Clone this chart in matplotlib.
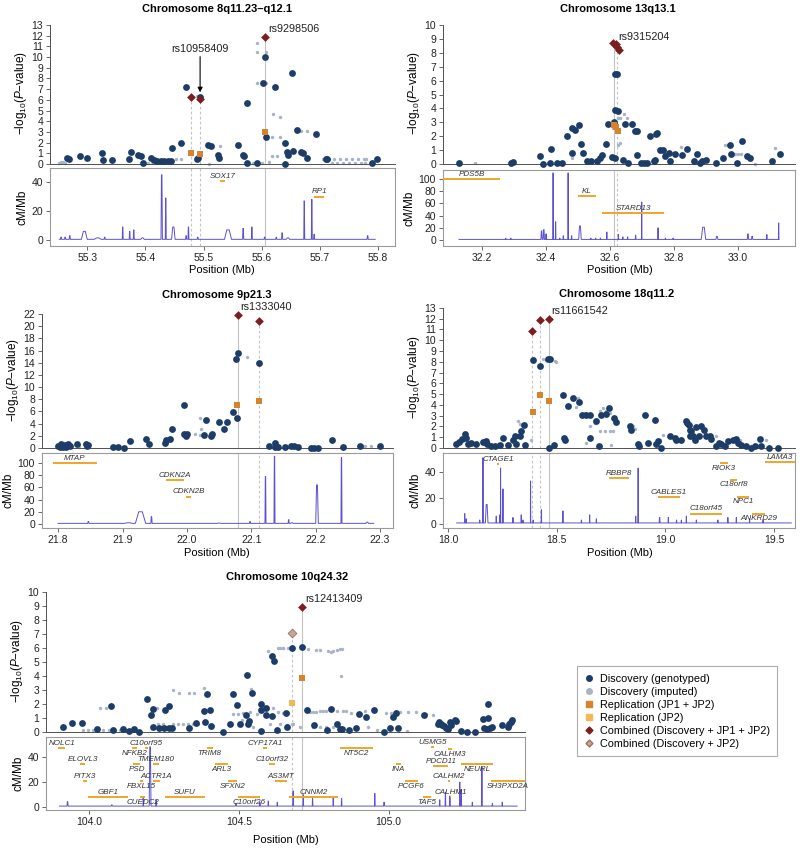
import numpy as np
import matplotlib
matplotlib.use("Agg")
from matplotlib import pyplot as plt
from matplotlib.lines import Line2D

plt.rcParams['font.family'] = ['Liberation Sans', 'DejaVu Sans']
plt.rcParams['mathtext.fontset'] = 'custom'
plt.rcParams['mathtext.rm'] = 'Liberation Sans'
plt.rcParams['mathtext.it'] = 'Liberation Sans:italic'

# ---------------- data: chromosome 8q11.23-q12.1 ----------------
geno_8 = [(55.265, 0.55), (55.268, 0.5), (55.287, 0.78), (55.300, 0.53), (55.326, 1.05), (55.327, 0.4),
          (55.343, 0.4), (55.372, 0.5), (55.376, 1.1), (55.388, 0.8), (55.393, 0.7), (55.396, 0.1),
          (55.410, 0.6), (55.415, 0.4), (55.420, 0.3), (55.426, 0.25), (55.432, 0.25), (55.438, 0.25),
          (55.444, 0.3), (55.445, 1.45), (55.462, 1.95), (55.470, 7.2), (55.488, 0.45), (55.491, 0.55),
          (55.494, 6.3), (55.508, 1.75), (55.513, 1.7), (55.525, 0.85), (55.526, 0.6), (55.560, 1.75),
          (55.568, 0.8), (55.570, 0.75), (55.574, 5.75), (55.574, 0.1), (55.591, 0.1), (55.602, 7.55),
          (55.606, 10.0), (55.608, 2.5), (55.622, 7.2), (55.640, 2.0), (55.640, 0.0), (55.643, 1.1),
          (55.645, 0.8), (55.652, 8.5), (55.654, 1.2), (55.660, 3.2), (55.668, 1.1), (55.671, 1.0),
          (55.677, 0.55), (55.694, 2.85), (55.710, 0.45), (55.712, 0.5), (55.790, 0.1), (55.798, 0.5)]
imp_8 = [(55.252, 0.05), (55.255, 0.15), (55.258, 0.2), (55.262, 0.1), (55.405, 0.1), (55.412, 0.15),
         (55.418, 0.1), (55.424, 0.15), (55.430, 0.1), (55.453, 0.5), (55.462, 0.5), (55.480, 6.3),
         (55.488, 6.35), (55.510, 0.0), (55.528, 1.65), (55.591, 11.3), (55.591, 10.5), (55.608, 10.45),
         (55.591, 7.6), (55.608, 7.6), (55.620, 4.7), (55.632, 4.4), (55.618, 2.55), (55.631, 2.55),
         (55.660, 3.1), (55.668, 3.1), (55.678, 3.1), (55.618, 0.7), (55.627, 0.7), (55.585, 0.1),
         (55.600, 0.05), (55.612, 0.15), (55.705, 0.45), (55.715, 0.5), (55.725, 0.45), (55.735, 0.45),
         (55.745, 0.5), (55.755, 0.45), (55.765, 0.45), (55.775, 0.5), (55.780, 0.45), (55.720, 0.1),
         (55.730, 0.1), (55.740, 0.05), (55.750, 0.1), (55.760, 0.1), (55.770, 0.1), (55.778, 0.1)]
rep_8 = [(55.478, 1.0), (55.494, 0.9), (55.606, 3.0)]
comb_8 = [(55.478, 6.25), (55.494, 6.05), (55.606, 11.9)]
# recombination peaks: position, cM/Mb, half width
rec_8 = [(55.255, 2, .001), (55.262, 2, .001), (55.270, 3, .001), (55.295, 6, .005), (55.318, 1.5, .006),
         (55.330, 2, .001), (55.361, 9, .0008), (55.373, 6, .0008), (55.380, 7, .0008), (55.395, 1.5, .003),
         (55.428, 45, .0012), (55.435, 29, .0008), (55.448, 9, .003), (55.470, 3, .001), (55.474, 9, .0008),
         (55.490, 2, .001), (55.542, 7, .006), (55.568, 8, .001), (55.583, 9, .0008), (55.605, 2, .001),
         (55.625, 2, .001), (55.635, 5, .001), (55.645, 1.5, .003), (55.673, 27, .0008), (55.686, 28, .0008),
         (55.690, 4, .0008), (55.782, 3, .001)]
genes_8 = [('SOX17', 55.529, 55.537, 41, 'above'), ('RP1', 55.690, 55.707, 30, 'above')]

# ---------------- data: chromosome 13q13.1 ----------------
geno_13 = [(32.128, 0.07), (32.292, 0.07), (32.296, 0.15), (32.380, 0.55), (32.390, 0.0), (32.416, 1.1),
           (32.412, 0.07), (32.433, 0.07), (32.449, 0.07), (32.467, 2.0), (32.480, 0.8), (32.482, 2.6),
           (32.490, 2.45), (32.503, 2.8), (32.509, 1.45), (32.516, 0.8), (32.527, 0.2), (32.542, 0.2),
           (32.558, 0.2), (32.568, 0.4), (32.575, 0.65), (32.586, 1.45), (32.594, 2.9), (32.607, 0.5),
           (32.617, 0.45), (32.614, 6.5), (32.623, 6.5), (32.614, 3.9), (32.626, 3.85), (32.611, 3.0),
           (32.640, 0.3), (32.647, 2.9), (32.656, 0.05), (32.670, 2.85), (32.678, 2.4), (32.685, 2.4),
           (32.683, 0.65), (32.696, 0.1), (32.707, 0.05), (32.716, 0.1), (32.725, 2.05), (32.738, 0.2),
           (32.744, 2.15), (32.748, 2.2), (32.741, 0.3), (32.757, 1.0), (32.764, 1.0), (32.772, 0.6),
           (32.783, 0.8), (32.788, 0.2), (32.804, 0.7), (32.825, 0.65), (32.840, 1.1), (32.861, 0.2),
           (32.872, 0.7), (32.882, 0.05), (32.887, 0.2), (32.900, 0.3), (32.932, 0.05), (32.953, 0.45),
           (32.976, 1.4), (32.979, 0.7), (32.997, 0.05), (33.013, 1.65), (33.028, 0.55), (33.036, 0.45),
           (33.106, 0.25), (33.130, 0.75)]
imp_13 = [(32.177, 0.05), (32.482, 0.4), (32.626, 3.3), (32.644, 3.6), (32.632, 3.3), (32.653, 3.3),
          (32.626, 1.35), (32.631, 1.55), (32.822, 1.2), (32.960, 1.4), (32.968, 1.4), (32.990, 0.7),
          (33.000, 0.7), (33.010, 0.7), (33.052, 0.0), (33.117, 1.15), (32.610, 2.6)]
rep_13 = [(32.612, 2.8), (32.618, 2.7), (32.626, 2.35)]
comb_13 = [(32.610, 8.7), (32.618, 8.6), (32.622, 8.45), (32.627, 8.2)]
rec_13 = [(32.274, 3, .001), (32.290, 3, .001), (32.386, 15, .002), (32.393, 17, .002), (32.400, 10, .001),
          (32.422, 110, .0008), (32.430, 30, .0008), (32.443, 3, .001), (32.454, 7, .001), (32.469, 110, .0008),
          (32.480, 7, .001), (32.506, 23, .004), (32.540, 3, .001), (32.555, 3, .001), (32.570, 3, .001),
          (32.590, 13, .001), (32.626, 9, .001), (32.640, 5, .001), (32.655, 5, .001), (32.680, 8, .001),
          (32.699, 62, .0008), (32.750, 20, .0008), (32.773, 3, .001), (32.797, 3, .001), (32.892, 21, .007),
          (32.934, 6, .003), (33.031, 10, .002), (33.044, 6, .002), (33.090, 9, .001), (33.127, 28, .0008)]
genes_13 = [('PDS5B', 32.078, 32.257, 100, 'above'), ('KL', 32.500, 32.555, 72, 'above'),
            ('STARD13', 32.575, 32.770, 44, 'above')]

# ---------------- data: chromosome 9p21.3 ----------------
geno_9 = [(21.800, 0.4), (21.803, 0.2), (21.805, 0.6), (21.808, 0.2), (21.811, 0.5), (21.813, 0.2),
          (21.816, 0.65), (21.819, 0.4), (21.830, 0.7), (21.844, 0.7), (21.845, 0.3), (21.846, 0.45),
          (21.885, 0.15), (21.893, 0.15), (21.902, 0.0), (21.912, 1.1), (21.936, 1.5), (21.941, 0.7),
          (21.966, 0.8), (21.967, 1.35), (21.974, 1.45), (21.977, 3.1), (21.995, 2.35), (21.995, 7.1),
          (21.998, 2.0), (22.000, 2.35), (22.027, 2.2), (22.029, 4.6), (22.038, 1.9), (22.039, 2.35),
          (22.050, 4.25), (22.057, 3.15), (22.063, 4.2), (22.072, 5.85), (22.078, 4.9), (22.076, 14.6),
          (22.079, 15.65), (22.112, 14.0), (22.128, 0.4), (22.137, 0.8), (22.137, 0.15), (22.142, 0.15),
          (22.153, 0.15), (22.162, 0.4), (22.166, 0.25), (22.172, 0.15), (22.193, 0.0), (22.198, 0.0),
          (22.203, 0.0), (22.226, 1.25), (22.243, 0.15), (22.268, 0.4), (22.300, 0.35)]
imp_9 = [(22.094, 15.0), (22.021, 5.0), (22.022, 3.1), (22.021, 2.2), (21.840, 0.6), (21.832, 0.2),
         (21.978, 3.0), (22.013, 2.3), (22.274, 0.4), (22.277, 0.4), (22.286, 0.3), (21.915, 1.1),
         (21.970, 1.2)]
rep_9 = [(22.078, 7.1), (22.112, 7.65)]
comb_9 = [(22.079, 21.9), (22.112, 20.9)]
rec_9 = [(21.847, 4, .001), (21.909, 2, .006), (21.928, 20, .008), (21.945, 12, .001), (22.050, 1.5, .003),
         (22.098, 4, .0008), (22.122, 78, .0008), (22.136, 111, .0008), (22.158, 7, .0008), (22.163, 2, .002),
         (22.202, 64, .002), (22.240, 109, .0008), (22.280, 3, .002)]
genes_9 = [('MTAP', 21.792, 21.860, 100, 'above'), ('CDKN2A', 21.967, 21.995, 72, 'above'),
           ('CDKN2B', 21.999, 22.007, 45, 'above')]

# ---------------- data: chromosome 18q11.2 ----------------
geno_18 = [(18.038, 0.4), (18.051, 0.53), (18.066, 0.84), (18.077, 1.3), (18.084, 0.93), (18.092, 0.4),
           (18.107, 0.46), (18.130, 0.4), (18.161, 0.53), (18.173, 0.62), (18.179, 0.4), (18.199, 0.15),
           (18.215, 0.22), (18.238, 0.31), (18.253, 0.93), (18.276, 0.25), (18.299, 0.77), (18.307, 1.08),
           (18.314, 0.4), (18.330, 1.08), (18.337, 1.55), (18.348, 2.1), (18.353, 0.31), (18.391, 8.2),
           (18.422, 7.65), (18.462, 8.3), (18.471, 8.25), (18.463, 0.0), (18.488, 0.3), (18.529, 4.95),
           (18.532, 0.93), (18.537, 0.77), (18.552, 3.87), (18.575, 4.64), (18.601, 4.27), (18.618, 3.03),
           (18.633, 3.03), (18.652, 3.03), (18.655, 0.93), (18.683, 2.54), (18.695, 0.22), (18.706, 3.1),
           (18.725, 3.16), (18.741, 3.72), (18.764, 2.79), (18.775, 2.38), (18.836, 2.0), (18.844, 1.7),
           (18.874, 0.4), (18.879, 0.15), (18.905, 3.03), (18.920, 0.46), (18.951, 2.6), (18.956, 0.4),
           (18.966, 0.62), (18.979, 0.0), (19.020, 1.08), (19.043, 0.93), (19.051, 0.77), (19.074, 0.77),
           (19.097, 2.48), (19.100, 2.32), (19.107, 2.1), (19.112, 1.7), (19.112, 1.15), (19.120, 1.55),
           (19.127, 1.15), (19.135, 0.77), (19.143, 1.95), (19.155, 1.08), (19.166, 2.07), (19.176, 1.7),
           (19.189, 1.08), (19.204, 1.15), (19.212, 0.84), (19.235, 0.15), (19.247, 0.46), (19.258, 0.4),
           (19.273, 0.15), (19.288, 0.62), (19.311, 0.77), (19.327, 0.84), (19.334, 0.46), (19.350, 0.31),
           (19.373, 0.15), (19.396, 0.0), (19.411, 0.15), (19.434, 0.84), (19.442, 0.15), (19.477, 0.0),
           (19.518, 0.0)]
imp_18 = [(18.322, 2.48), (18.330, 2.26), (18.345, 2.0), (18.337, 1.08), (18.437, 8.25), (18.452, 8.2),
          (18.491, 8.05), (18.498, 7.95), (18.598, 4.64), (18.590, 3.8), (18.629, 3.2), (18.660, 3.1),
          (18.698, 3.4), (18.713, 3.7), (18.729, 3.4), (18.744, 3.25), (18.652, 2.0), (18.675, 2.3),
          (18.698, 1.55), (18.721, 1.55), (18.744, 1.55), (18.759, 1.55), (18.637, 0.46), (18.752, 0.31),
          (18.383, 0.77), (19.235, 1.08), (19.342, 0.77), (19.465, 0.77), (18.974, 0.77), (18.989, 1.24),
          (18.851, 2.0), (18.859, 1.75), (19.127, 1.08)]
rep_18 = [(18.391, 3.3), (18.422, 4.95), (18.463, 4.4)]
comb_18 = [(18.387, 10.85), (18.422, 11.85), (18.463, 12.0)]
rec_18 = [(18.077, 8, .001), (18.084, 4, .001), (18.146, 3, .001), (18.161, 51, .0008), (18.178, 15, .006),
          (18.222, 6, .001), (18.238, 7, .001), (18.242, 43, .0008), (18.253, 27, .0008), (18.299, 5, .001),
          (18.337, 7, .001), (18.345, 3, .001), (18.380, 33, .0008), (18.392, 3, .001), (18.430, 11, .001),
          (18.529, 10, .002), (18.614, 3, .001), (18.652, 7, .001), (18.683, 4, .001), (18.864, 6, .001),
          (18.875, 43, .0008), (18.974, 5, .002), (19.014, 5, .001), (19.052, 3, .001), (19.074, 3, .001),
          (19.097, 6, .001), (19.143, 3, .001), (19.242, 3, .001), (19.288, 5, .001), (19.327, 5, .001),
          (19.388, 4, .001), (19.450, 3, .001)]
genes_18 = [('CTAGE1', 18.226, 18.234, 46, 'above'), ('RBBP8', 18.740, 18.835, 35, 'above'),
            ('CABLES1', 18.965, 19.070, 21, 'above'), ('C18orf45', 19.112, 19.262, 8, 'above'),
            ('RIOK3', 19.253, 19.290, 47, 'below'), ('C18orf8', 19.300, 19.331, 34, 'below'),
            ('NPC1', 19.331, 19.385, 21, 'below'), ('ANKRD29', 19.400, 19.460, 8, 'below'),
            ('LAMA3', 19.460, 19.620, 47.5, 'above')]

# ---------------- data: chromosome 10q24.32 ----------------
geno_10 = [(103.913, 0.33), (103.943, 0.64), (103.975, 0.62), (104.027, 0.19), (104.071, 1.83), (104.078, 0.12),
           (104.114, 0.24), (104.134, 0.07), (104.150, 0.19), (104.167, 0.0), (104.194, 2.33), (104.205, 1.19),
           (104.212, 1.67), (104.214, 0.36), (104.232, 0.28), (104.249, 0.28), (104.253, 1.6), (104.266, 0.28),
           (104.267, 1.83), (104.275, 0.3), (104.334, 0.29), (104.356, 0.64), (104.383, 1.48), (104.386, 0.71),
           (104.392, 2.69), (104.404, 1.6), (104.405, 0.4), (104.447, 0.0), (104.469, 0.55), (104.479, 2.74),
           (104.492, 1.9), (104.503, 0.6), (104.522, 1.21), (104.527, 4.1), (104.530, 0.6), (104.535, 0.8),
           (104.545, 2.81), (104.572, 1.6), (104.575, 2.02), (104.575, 0.07), (104.589, 1.74), (104.589, 1.24),
           (104.609, 1.12), (104.609, 5.4), (104.618, 5.07), (104.626, 0.12), (104.656, 1.38), (104.661, 0.36),
           (104.677, 6.02), (104.711, 6.07), (104.726, 1.55), (104.750, 0.48), (104.795, 0.12), (104.809, 1.67),
           (104.828, 0.55), (104.836, 0.2), (104.845, 0.2), (104.868, 0.17), (104.890, 0.31), (104.901, 1.26),
           (104.926, 1.07), (104.950, 1.6), (104.984, 0.0), (105.004, 0.31), (105.015, 1.05), (105.026, 1.38),
           (105.032, 0.29), (105.117, 1.19), (105.165, 0.6), (105.170, 0.7), (105.175, 0.6), (105.180, 0.5),
           (105.186, 0.4), (105.193, 0.3), (105.199, 0.25), (105.204, 0.7), (105.210, 0.5), (105.221, 0.88),
           (105.227, 0.8), (105.241, 0.07), (105.263, 0.0), (105.290, 0.0), (105.317, 0.95), (105.334, 1.0),
           (105.334, 1.98), (105.320, 0.3), (105.328, 0.25), (105.338, 0.3), (105.346, 0.35), (105.378, 0.52),
           (105.398, 0.36), (105.404, 0.6), (105.410, 0.71), (105.414, 0.83)]
imp_10 = [(104.036, 1.71), (104.056, 1.71), (103.980, 0.17), (103.997, 0.17), (104.013, 0.17), (104.047, 0.17),
          (104.064, 0.17), (104.086, 0.17), (104.103, 0.17), (104.120, 0.17), (104.153, 0.17), (104.227, 1.71),
          (104.278, 2.98), (104.300, 2.81), (104.334, 2.81), (104.350, 2.81), (104.383, 3.14), (104.280, 0.6),
          (104.297, 0.6), (104.314, 0.6), (104.331, 0.6), (104.347, 0.6), (104.364, 0.6), (104.230, 0.6),
          (104.247, 0.55), (104.539, 3.1), (104.481, 1.31), (104.498, 1.31), (104.512, 1.36), (104.537, 1.43),
          (104.596, 5.79), (104.629, 6.02), (104.646, 6.02), (104.664, 6.02), (104.615, 1.74), (104.631, 1.43),
          (104.648, 1.36), (104.664, 1.36), (104.559, 1.31), (104.509, 0.83), (104.548, 0.36), (104.603, 0.55),
          (104.637, 0.55), (104.676, 0.6), (104.637, 6.02), (104.648, 6.02), (104.731, 5.95), (104.759, 5.88),
          (104.770, 5.83), (104.798, 5.76), (104.806, 5.71), (104.815, 5.79), (104.826, 5.83), (104.837, 5.9),
          (104.843, 5.93), (104.840, 3.98), (104.737, 1.43), (104.748, 1.43), (104.759, 1.43), (104.770, 1.5),
          (104.781, 1.5), (104.792, 1.5), (104.826, 1.5), (104.848, 1.48), (104.859, 1.48), (104.876, 1.36),
          (104.898, 1.36), (104.920, 1.5), (104.993, 1.38), (105.009, 1.38), (105.037, 1.4), (105.065, 1.43),
          (105.093, 1.43), (105.126, 1.26), (105.149, 1.24), (104.659, 0.48), (104.681, 0.55), (104.704, 0.36),
          (104.748, 0.36), (104.770, 0.36), (104.792, 0.36), (104.815, 0.36), (104.932, 0.36), (104.960, 0.12),
          (105.060, 0.07)]
rep_10 = [(104.711, 3.86)]
rep2_10 = [(104.676, 2.05)]
comb_10 = [(104.711, 8.93)]
comb2_10 = [(104.676, 7.05)]
rec_10 = [(103.927, 4.5, .002), (104.075, 2, .002), (104.180, 8, .001), (104.203, 48, .003), (104.223, 6, .001),
          (104.490, 3, .002), (104.570, 4, .001), (104.598, 5, .001), (104.628, 4, .001), (104.681, 13, .001),
          (104.715, 10, .001), (104.746, 7, .001), (104.815, 8, .001), (104.843, 7, .001), (104.954, 11, .001),
          (104.985, 4, .002), (105.171, 6, .001), (105.190, 12, .001), (105.205, 9, .001), (105.238, 20, .001),
          (105.243, 14, .001), (105.280, 4, .001), (105.312, 32, .001), (105.347, 3, .001), (105.380, 4, .001)]
genes_10 = [('NOLC1', 103.896, 103.919, 47, 'above'), ('ELOVL3', 103.969, 103.986, 34, 'above'),
            ('PITX3', 103.980, 103.993, 21, 'above'), ('GBF1', 103.997, 104.130, 8, 'above'),
            ('NFKB2', 104.142, 104.158, 47, 'below'), ('C10orf95', 104.186, 104.196, 47, 'above'),
            ('TMEM180', 104.212, 104.234, 34, 'above'), ('PSD', 104.147, 104.169, 34, 'below'),
            ('ACTR1A', 104.214, 104.236, 21, 'above'), ('FBXL15', 104.170, 104.180, 21, 'below'),
            ('CUEDC2', 104.170, 104.186, 8, 'below'), ('SUFU', 104.253, 104.386, 8, 'above'),
            ('TRIM8', 104.392, 104.412, 47, 'below'), ('ARL3', 104.420, 104.464, 34, 'below'),
            ('SFXN2', 104.464, 104.492, 21, 'below'), ('C10orf26', 104.497, 104.570, 8, 'below'),
            ('CYP17A1', 104.581, 104.594, 47, 'above'), ('C10orf32', 104.601, 104.620, 34, 'above'),
            ('AS3MT', 104.620, 104.659, 21, 'above'), ('CNNM2', 104.668, 104.831, 8, 'above'),
            ('NT5C2', 104.837, 104.948, 47, 'below'), ('INA', 105.026, 105.040, 34, 'below'),
            ('PCGF6', 105.054, 105.099, 21, 'below'), ('TAF5', 105.115, 105.143, 8, 'below'),
            ('USMG5', 105.143, 105.151, 48, 'above'), ('CALHM3', 105.200, 105.212, 46, 'below'),
            ('PDCD11', 105.149, 105.200, 33, 'above'), ('NEURL', 105.243, 105.349, 34, 'below'),
            ('CALHM2', 105.200, 105.205, 21, 'above'), ('CALHM1', 105.205, 105.210, 8, 'above'),
            ('SH3PXD2A', 105.344, 105.460, 21, 'below')]

legend_labels = ['Discovery (genotyped)', 'Discovery (imputed)', 'Replication (JP1 + JP2)',
                 'Replication (JP2)', 'Combined (Discovery + JP1 + JP2)', 'Combined (Discovery + JP2)']

# ---------------- style ----------------
C_GENO = '#1d3c68'
C_IMP = '#a7b3c7'
C_REP = '#d5832c'
C_REP2 = '#f0b955'
C_COMB = '#7a1e22'
C_COMB2 = '#c9a497'
C_REC = '#5a52d2'
C_GENE = '#f0a52a'
C_VL = '#c4c4c4'
C_AX = '#505050'

W, H = 800, 850
fig = plt.figure(figsize=(W / 100, H / 100), dpi=100)


def px_axes(x0, y0, x1, y1):
    return fig.add_axes([x0 / W, 1 - y1 / H, (x1 - x0) / W, (y1 - y0) / H])


def rec_line(peaks, x0, x1, base):
    xs, ys = [x0], [base]
    for p, h, hw in sorted(peaks):
        xs += [p - hw, p - hw * 0.35, p + hw * 0.35, p + hw]
        ys += [base, h, h, base]
    xs.append(x1)
    ys.append(base)
    return xs, ys


def style_ticks(ax):
    ax.tick_params(length=3, width=0.6, labelsize=7.5, pad=2, colors='#222222')
    ax.tick_params(axis='both', color=C_AX)


def panel(cfg):
    x0p, x1p = cfg['xpx']
    top = px_axes(x0p, cfg['top_px'][0], x1p, cfg['top_px'][1])
    bot = px_axes(x0p, cfg['bot_px'][0], x1p, cfg['bot_px'][1])
    for ax in (top, bot):
        ax.set_xlim(*cfg['xlim'])
        ax.patch.set_alpha(0)

    # association panel
    top.set_ylim(*cfg['ylim'])
    for s in ('top', 'right'):
        top.spines[s].set_visible(False)
    top.spines['bottom'].set_position(('data', 0))
    top.spines['bottom'].set_color(C_AX)
    top.spines['left'].set_color(C_AX)
    top.spines['left'].set_bounds(0, cfg['ymax'])
    top.spines['left'].set_linewidth(0.7)
    top.spines['bottom'].set_linewidth(0.7)
    top.set_xticks([])
    top.set_yticks(np.arange(0, cfg['ymax'] + 1, cfg['ystep']))
    style_ticks(top)
    top.set_ylabel(r'$-\mathrm{log}_{10}(\mathit{P}\mathrm{-value})$', fontsize=8.5, labelpad=2)

    comb_all = cfg['comb'] + cfg.get('comb2', [])
    span = cfg['xlim'][1] - cfg['xlim'][0]
    for vx, style in cfg['vlines']:
        near = [cy for cx, cy in comb_all if abs(cx - vx) < 0.01 * span]
        ls = '-' if style == 'solid' else (0, (2.5, 2))
        top.plot([vx, vx], [0, max(near)], color=C_VL, lw=0.8, ls=ls, zorder=1)
        bot.axvline(vx, color=C_VL, lw=0.8, ls=ls, zorder=1)

    ix, iy = zip(*cfg['imp'])
    top.scatter(ix, iy, s=6, color=C_IMP, lw=0, zorder=2, clip_on=False)
    gx, gy = zip(*cfg['geno'])
    top.scatter(gx, gy, s=24, color=C_GENO, lw=0, zorder=3, clip_on=False)
    rx, ry = zip(*cfg['rep'])
    top.scatter(rx, ry, s=16, marker='s', color=C_REP, lw=0, zorder=4)
    if 'rep2' in cfg:
        rx, ry = zip(*cfg['rep2'])
        top.scatter(rx, ry, s=16, marker='s', color=C_REP2, lw=0, zorder=4)
    cx, cy = zip(*cfg['comb'])
    top.scatter(cx, cy, s=20, marker='D', color=C_COMB, lw=0, zorder=5, clip_on=False)
    if 'comb2' in cfg:
        cx, cy = zip(*cfg['comb2'])
        top.scatter(cx, cy, s=20, marker='D', color=C_COMB2, edgecolor='#9c6f62', lw=0.6, zorder=5)

    lx, ly = cfg['lead']
    top.annotate(cfg['lead_name'], (lx, ly), xytext=(2, 2), textcoords='offset points',
                 ha='left', va='bottom', fontsize=7.8, color='#222222')

    # recombination panel
    xs, ys = rec_line(cfg['rec'], cfg['rec_span'][0], cfg['rec_span'][1], cfg['rec_base'])
    bot.plot(xs, ys, color=C_REC, lw=0.7, zorder=2)
    bot.set_ylim(*cfg['rlim'])
    bot.set_yticks(cfg['rticks'])
    bot.set_xticks(cfg['xticks'])
    bot.set_xticklabels(cfg['xticklabels'])
    for s in bot.spines.values():
        s.set_color('#9a9a9a')
        s.set_linewidth(0.8)
    style_ticks(bot)
    bot.set_ylabel('cM/Mb', fontsize=8.5, labelpad=2)
    for name, g0, g1, gy, pos in cfg['genes']:
        bot.plot([g0, g1], [gy, gy], color=C_GENE, lw=1.4, solid_capstyle='butt', zorder=3, clip_on=True)
        lo = max(g0, cfg['xlim'][0])
        hi = min(g1, cfg['xlim'][1])
        if pos == 'above':
            bot.annotate(name, ((lo + hi) / 2, gy), xytext=(0, 0.8), textcoords='offset points',
                         ha='center', va='bottom', fontsize=5.8, style='italic', color='#333333', zorder=4)
        else:
            bot.annotate(name, ((lo + hi) / 2, gy), xytext=(0, -1.2), textcoords='offset points',
                         ha='center', va='top', fontsize=5.8, style='italic', color='#333333', zorder=4)
    return top, bot


cfg8 = dict(xpx=(50, 395), top_px=(20, 166), bot_px=(168, 246), xlim=(55.236, 55.829),
            ylim=(-0.19, 13.47), ymax=13, ystep=1, rlim=(-4.1, 49.7), rticks=[0, 20, 40],
            xticks=[55.3, 55.4, 55.5, 55.6, 55.7, 55.8], xticklabels=['55.3', '55.4', '55.5', '55.6', '55.7', '55.8'],
            geno=geno_8, imp=imp_8, rep=rep_8, comb=comb_8, rec=rec_8, rec_span=(55.252, 55.795), rec_base=0.5,
            genes=genes_8, lead=comb_8[2], lead_name='rs9298506',
            vlines=[(55.478, 'dashed'), (55.494, 'dashed'), (55.606, 'solid')])
cfg13 = dict(xpx=(443, 795), top_px=(20, 166), bot_px=(170, 246), xlim=(32.078, 33.178),
             ylim=(-0.14, 10.36), ymax=10, ystep=1, rlim=(-9.8, 114.8), rticks=[0, 20, 40, 60, 80, 100],
             xticks=[32.2, 32.4, 32.6, 32.8, 33.0], xticklabels=['32.2', '32.4', '32.6', '32.8', '33.0'],
             geno=geno_13, imp=imp_13, rep=rep_13, comb=comb_13, rec=rec_13, rec_span=(32.128, 33.128),
             rec_base=1, genes=genes_13, lead=comb_13[1], lead_name='rs9315204',
             vlines=[(32.612, 'solid'), (32.622, 'dashed')])
cfg9 = dict(xpx=(42, 393), top_px=(309, 450), bot_px=(453, 528), xlim=(21.775, 22.32),
            ylim=(-0.33, 22.82), ymax=22, ystep=2, rlim=(-6.6, 116.4), rticks=[0, 20, 40, 60, 80, 100],
            xticks=[21.8, 21.9, 22.0, 22.1, 22.2, 22.3], xticklabels=['21.8', '21.9', '22.0', '22.1', '22.2', '22.3'],
            geno=geno_9, imp=imp_9, rep=rep_9, comb=comb_9, rec=rec_9, rec_span=(21.800, 22.290),
            rec_base=1, genes=genes_9, lead=comb_9[0], lead_name='rs1333040',
            vlines=[(22.079, 'solid'), (22.112, 'dashed')])
cfg18 = dict(xpx=(443, 795), top_px=(303, 450), bot_px=(453, 528), xlim=(17.977, 19.597),
             ylim=(-0.19, 13.46), ymax=13, ystep=1, rlim=(-3.1, 54.6), rticks=[0, 20, 40],
             xticks=[18.0, 18.5, 19.0, 19.5], xticklabels=['18.0', '18.5', '19.0', '19.5'],
             geno=geno_18, imp=imp_18, rep=rep_18, comb=comb_18, rec=rec_18, rec_span=(18.040, 19.580),
             rec_base=0.8, genes=genes_18, lead=comb_18[2], lead_name='rs11661542',
             vlines=[(18.387, 'dashed'), (18.422, 'dashed'), (18.463, 'solid')])
cfg10 = dict(xpx=(46, 525), top_px=(587, 734), bot_px=(737, 810), xlim=(103.855, 105.456),
             ylim=(-0.14, 10.36), ymax=10, ystep=1, rlim=(-2.1, 55.8), rticks=[0, 20, 40],
             xticks=[104.0, 104.5, 105.0], xticklabels=['104.0', '104.5', '105.0'],
             geno=geno_10, imp=imp_10, rep=rep_10, rep2=rep2_10, comb=comb_10, comb2=comb2_10,
             rec=rec_10, rec_span=(103.900, 105.430), rec_base=1, genes=genes_10,
             lead=comb_10[0], lead_name='rs12413409',
             vlines=[(104.676, 'dashed'), (104.711, 'solid')])

top8, bot8 = panel(cfg8)
top13, bot13 = panel(cfg13)
top9, bot9 = panel(cfg9)
top18, bot18 = panel(cfg18)
top10, bot10 = panel(cfg10)

# arrow to second 8q SNP
top8.annotate('rs10958409', xy=(55.494, 6.7), xytext=(55.494, 10.3), ha='center', va='bottom',
              fontsize=7.8, color='#222222',
              arrowprops=dict(arrowstyle='-|>', color='black', lw=0.8, mutation_scale=7, shrinkA=0, shrinkB=0))

titles = [('Chromosome 8q11.23\u2013q12.1', 217, 9), ('Chromosome 13q13.1', 618, 9),
          ('Chromosome 9p21.3', 217, 295), ('Chromosome 18q11.2', 617, 294), ('Chromosome 10q24.32', 287, 577)]
for t, x, y in titles:
    fig.text(x / W, 1 - y / H, t, ha='center', va='center', fontsize=8, fontweight='bold')
for x, y in [(222, 270), (620, 270), (217, 553), (620, 553), (286, 840)]:
    fig.text(x / W, 1 - y / H, 'Position (Mb)', ha='center', va='center', fontsize=8)

handles = [Line2D([], [], ls='', marker='o', color=C_GENO, markersize=4),
           Line2D([], [], ls='', marker='o', color=C_IMP, markersize=4),
           Line2D([], [], ls='', marker='s', color=C_REP, markersize=4),
           Line2D([], [], ls='', marker='s', color=C_REP2, markersize=4),
           Line2D([], [], ls='', marker='D', color=C_COMB, markersize=3.5),
           Line2D([], [], ls='', marker='D', color=C_COMB2, markeredgecolor='#9c6f62', markersize=3.5)]
leg = fig.legend(handles, legend_labels, loc='upper left', bbox_to_anchor=(577 / W, 1 - 666 / H),
                 fontsize=7.8, frameon=True, fancybox=False, edgecolor='#9a9a9a', handlelength=0.8,
                 handletextpad=0.6, labelspacing=0.28, borderpad=0.7, borderaxespad=0)
leg.get_frame().set_linewidth(0.8)

fig.savefig('out.png', dpi=100)
